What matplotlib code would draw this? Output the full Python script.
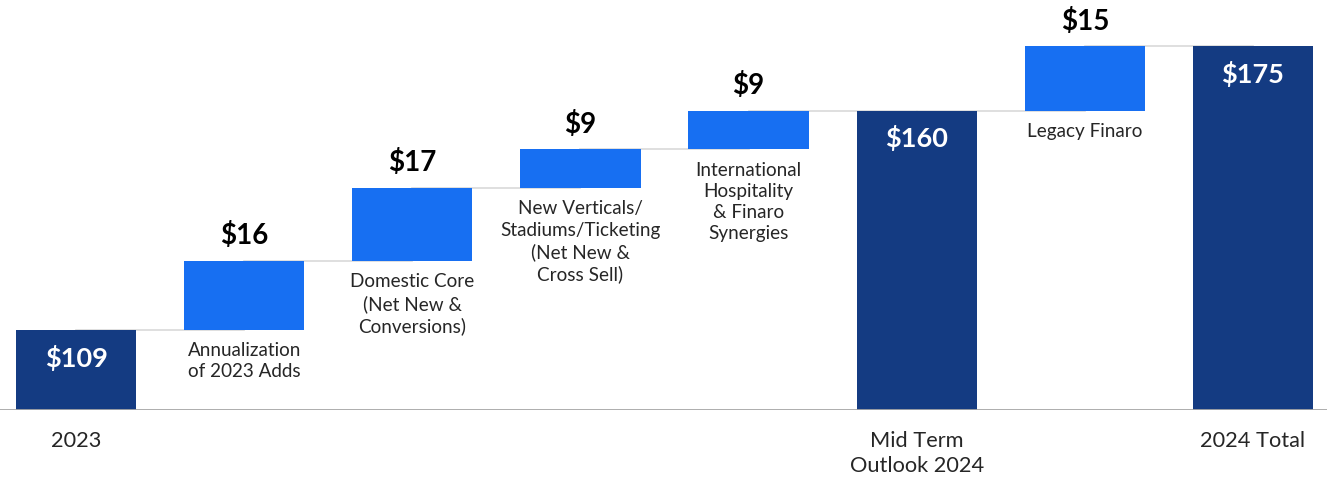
import numpy as np
import matplotlib.pyplot as plt

plt.rcParams['font.family'] = ['Lato', 'DejaVu Sans']

# Waterfall data ($)
steps = ['2023', 'Annualization\nof 2023 Adds', 'Domestic Core\n(Net New &\nConversions)',
         'New Verticals/\nStadiums/Ticketing\n(Net New &\nCross Sell)',
         'International\nHospitality\n& Finaro\nSynergies',
         'Mid Term\nOutlook 2024', 'Legacy Finaro', '2024 Total']
values = [109, 16, 17, 9, 9, 160, 15, 175]
is_total = [True, False, False, False, False, True, False, True]

NAVY = '#143b82'
BLUE = '#176ff2'
GRID = '#d9d9d9'

# Work out bar bottoms / tops
bottoms, tops = [], []
running = 0
for v, tot in zip(values, is_total):
    if tot:
        bottoms.append(None)
        tops.append(v)
        running = v
    else:
        bottoms.append(running)
        running += v
        tops.append(running)

W, H = 1327, 479
fig = plt.figure(figsize=(W / 100, H / 100), dpi=100)
ax = fig.add_axes([0, 69 / H, 1, 410 / H])

y_lo = 175 - 364 / 4.3
y_hi = 175 + 46 / 4.3
ax.set_ylim(y_lo, y_hi)
ax.set_xlim(-76 / 168.1, 7 + 74 / 168.1)

x = np.arange(len(values))
bw = 0.715

# connector lines between bars
for i in range(len(values) - 1):
    ax.plot([x[i], x[i + 1]], [tops[i], tops[i]], color=GRID, lw=1.2, zorder=1)

for i, (v, tot) in enumerate(zip(values, is_total)):
    if tot:
        ax.bar(x[i], v - y_lo, bottom=y_lo, width=bw, color=NAVY, zorder=2)
        ax.annotate(f'${v}', (x[i], v), xytext=(0, -20), textcoords='offset points',
                    ha='center', va='center', color='white', fontsize=19.5, fontweight='bold')
    else:
        ax.bar(x[i], v, bottom=bottoms[i], width=bw, color=BLUE, zorder=2)
        ax.annotate(f'${v}', (x[i], tops[i]), xytext=(0, 18), textcoords='offset points',
                    ha='center', va='center', color='black', fontsize=20, fontweight='bold')
        ax.annotate(steps[i], (x[i], bottoms[i]), xytext=(0, -9), textcoords='offset points',
                    ha='center', va='top', color='#262626', fontsize=13.6, linespacing=1.3)

ax.axhline(y_lo, color='#a6a6a6', lw=2, zorder=3)

tick_labels = [s if t else '' for s, t in zip(steps, is_total)]
ax.set_xticks(x, tick_labels)
ax.tick_params(axis='x', length=0, pad=15, labelsize=15.7, labelcolor='#262626')
for lab in ax.get_xticklabels():
    lab.set_linespacing(1.35)
ax.set_yticks([])
for sp in ax.spines.values():
    sp.set_visible(False)

fig.savefig('out.png', dpi=100)
